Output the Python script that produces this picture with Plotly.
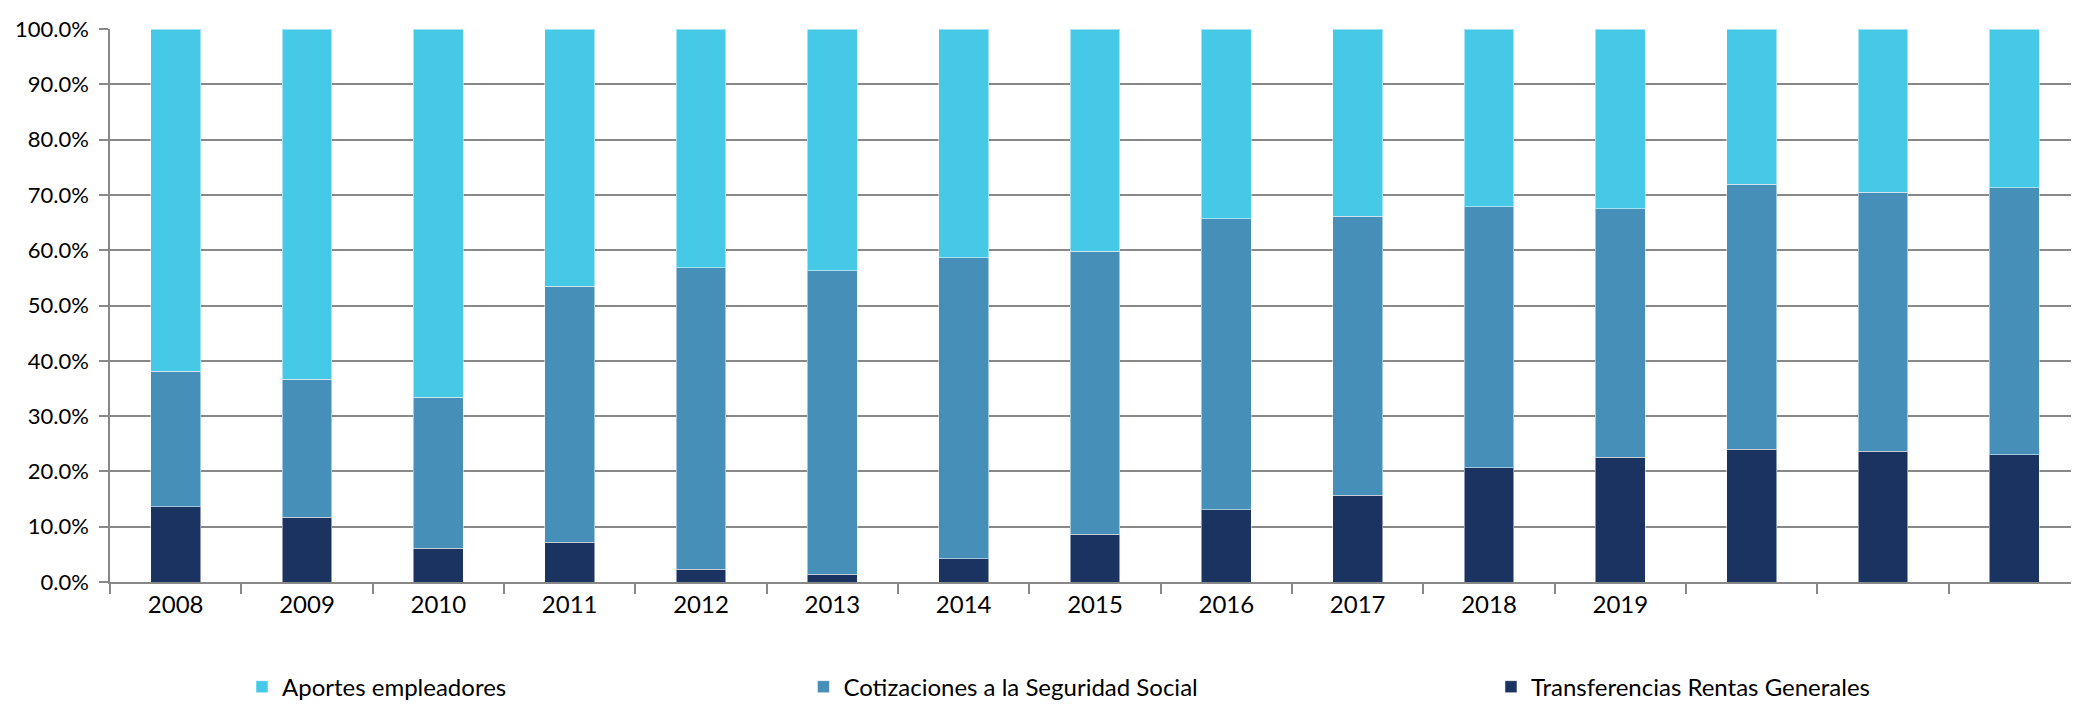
import plotly.graph_objects as go

categories = ["2008", "2009", "2010", "2011", "2012", "2013", "2014", "2015",
              "2016", "2017", "2018", "2019", "2020", "2021", "2022"]
tick_labels = ["2008", "2009", "2010", "2011", "2012", "2013", "2014", "2015",
               "2016", "2017", "2018", "2019", "", "", ""]

transferencias = [13.6, 11.7, 6.1, 7.2, 2.3, 1.4, 4.2, 8.6, 13.1, 15.7, 20.7, 22.6, 24.0, 23.6, 23.0]
cotizaciones = [24.5, 25.0, 27.3, 46.3, 54.5, 54.9, 54.4, 51.2, 52.6, 50.4, 47.2, 44.9, 47.9, 46.9, 48.3]
aportes = [61.9, 63.3, 66.6, 46.5, 43.2, 43.7, 41.4, 40.2, 34.3, 33.9, 32.1, 32.5, 28.1, 29.5, 28.7]

colors = {"Transferencias Rentas Generales": "#1B3360",
          "Cotizaciones a la Seguridad Social": "#468FB8",
          "Aportes empleadores": "#45C9E7"}

FONT = "Lato"
FS = 24
FS_Y = 22
fig = go.Figure()
stack = [("Transferencias Rentas Generales", transferencias, "legend3"),
         ("Cotizaciones a la Seguridad Social", cotizaciones, "legend2"),
         ("Aportes empleadores", aportes, "legend")]
for name, vals, lg in stack:
    fig.add_trace(go.Bar(
        x=categories, y=vals, name=name,
        marker=dict(color=colors[name], line=dict(color="rgba(255,255,255,0.5)", width=1)),
        legend=lg,
    ))

legend_common = dict(orientation="h", yanchor="middle", y=-0.19,
                     xanchor="left",
                     font=dict(family=FONT, size=FS, color="#000000"),
                     bgcolor="rgba(0,0,0,0)", itemwidth=30)
fig.update_layout(
    barmode="stack",
    bargap=0.62,
    width=2079, height=708,
    margin=dict(l=102, r=7, t=16, b=124),
    plot_bgcolor="white", paper_bgcolor="white",
    font=dict(family=FONT, size=FS, color="#000000"),
    legend=dict(**legend_common, x=0.067),
    legend2=dict(**legend_common, x=0.352),
    legend3=dict(**legend_common, x=0.701),
    showlegend=True,
)
fig.update_xaxes(
    type="category", tickmode="array", tickvals=categories, ticktext=tick_labels,
    tickson="boundaries", ticks="outside", ticklen=10, tickwidth=2, tickcolor="#888888",
    showline=True, linecolor="#888888", linewidth=2, showgrid=False,
    tickfont=dict(family=FONT, size=FS, color="#000000"),
)
fig.update_yaxes(
    range=[0, 100], dtick=10, tick0=0,
    tickformat=".1f", ticksuffix="%\u00a0",
    ticks="outside", ticklen=9, tickwidth=2, tickcolor="#888888",
    showline=True, linecolor="#888888", linewidth=2,
    showgrid=True, gridcolor="#888888", gridwidth=2,
    tickfont=dict(family=FONT, size=FS_Y, color="#000000"),
    zeroline=False,
)
fig.write_html("out.html")
